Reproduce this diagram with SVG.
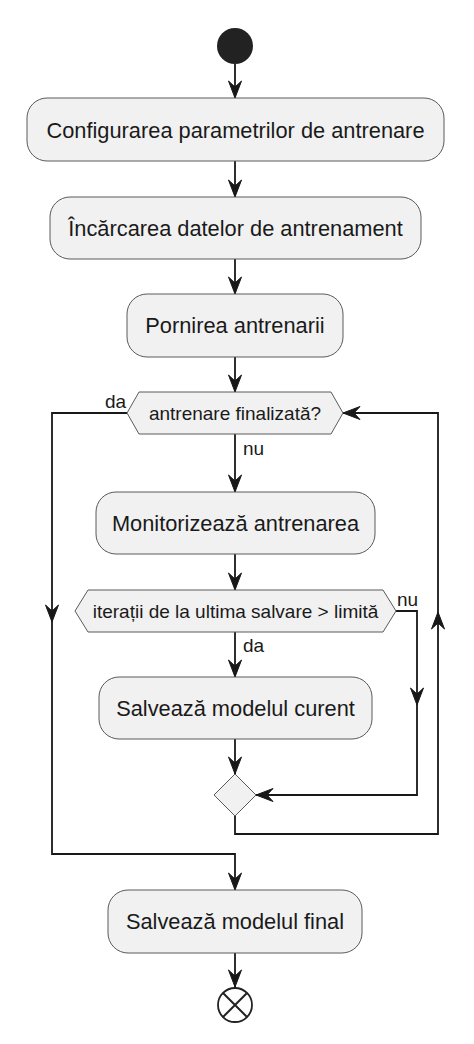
<svg xmlns="http://www.w3.org/2000/svg" width="474" height="1044" viewBox="0 0 474 1044">
<style>
.box{fill:#F1F1F1;stroke:#5A5A5A;stroke-width:1}
.t{font-family:"Liberation Sans",Arial,sans-serif;font-size:21.8px;fill:#1A1A1A;text-anchor:middle}
.td{font-family:"Liberation Sans",Arial,sans-serif;font-size:19px;fill:#1A1A1A;text-anchor:middle}
.lbl{font-family:"Liberation Sans",Arial,sans-serif;font-size:19px;fill:#1A1A1A}
.c{fill:none;stroke:#181818;stroke-width:1.8}
</style>
<defs>
<marker id="ah" markerUnits="userSpaceOnUse" markerWidth="20" markerHeight="16" viewBox="-18 -8 20 16" refX="0" refY="0" orient="auto">
<path d="M0,0 L-17,-6.5 L-11,0 L-17,6.5 Z" fill="#181818" stroke="#181818" stroke-width="1"/>
</marker>
</defs>
<rect width="474" height="1044" fill="#FFFFFF"/>
<g id="connectors">
<path class="c" d="M235,64 V98" marker-end="url(#ah)"/>
<path class="c" d="M235,161 V197" marker-end="url(#ah)"/>
<path class="c" d="M235,259 V294" marker-end="url(#ah)"/>
<path class="c" d="M235,357 V392" marker-end="url(#ah)"/>
<path class="c" d="M235,434 V492" marker-end="url(#ah)"/>
<path class="c" d="M235,554 V590" marker-end="url(#ah)"/>
<path class="c" d="M235,632 V677" marker-end="url(#ah)"/>
<path class="c" d="M235,739 V774" marker-end="url(#ah)"/>
<path class="c" d="M396,611 H417 V705" marker-end="url(#ah)"/>
<path class="c" d="M417,705 V795 H256" marker-end="url(#ah)"/>
<path class="c" d="M235,816 V834 H438 V612" marker-end="url(#ah)"/>
<path class="c" d="M438,612 V413 H343" marker-end="url(#ah)"/>
<path class="c" d="M127,413 H52 V622" marker-end="url(#ah)"/>
<path class="c" d="M52,622 V854 H235 V890" marker-end="url(#ah)"/>
<path class="c" d="M235,953 V987" marker-end="url(#ah)"/>
<text class="lbl" x="105" y="408">da</text>
<text class="lbl" x="243" y="455">nu</text>
<text class="lbl" x="397" y="606">nu</text>
<text class="lbl" x="243" y="652">da</text>
</g>
<g id="start"><circle cx="235" cy="46" r="18" fill="#222222"/></g>
<g id="config"><rect class="box" x="27" y="98" width="417" height="63" rx="20"/><text class="t" x="235.5" y="137.5">Configurarea parametrilor de antrenare</text></g>
<g id="load"><rect class="box" x="50" y="197" width="371" height="62" rx="20"/><text class="t" x="235.5" y="236">Încărcarea datelor de antrenament</text></g>
<g id="startTrain"><rect class="box" x="127" y="294" width="216" height="63" rx="20"/><text class="t" x="235" y="333">Pornirea antrenarii</text></g>
<g id="dec1"><polygon class="box" points="127,413 139,392 331,392 343,413 331,434 139,434"/><text class="td" x="235" y="420">antrenare finalizată?</text></g>
<g id="monitor"><rect class="box" x="96" y="492" width="279" height="62" rx="20"/><text class="t" x="235.5" y="531">Monitorizează antrenarea</text></g>
<g id="dec2"><polygon class="box" points="75,611 88,590 383,590 396,611 383,632 88,632"/><text class="td" x="235.5" y="618">iterații de la ultima salvare &gt; limită</text></g>
<g id="saveCur"><rect class="box" x="99" y="677" width="273" height="62" rx="20"/><text class="t" x="235.5" y="716">Salvează modelul curent</text></g>
<g id="merge"><polygon class="box" points="235,774 256,795 235,816 214,795"/></g>
<g id="saveFinal"><rect class="box" x="108" y="890" width="254" height="63" rx="20"/><text class="t" x="235" y="929">Salvează modelul final</text></g>
<g id="end"><circle cx="235" cy="1005" r="17" fill="none" stroke="#222222" stroke-width="1.8"/><path d="M223,993 L247,1017 M247,993 L223,1017" stroke="#222222" stroke-width="2"/></g>
</svg>
